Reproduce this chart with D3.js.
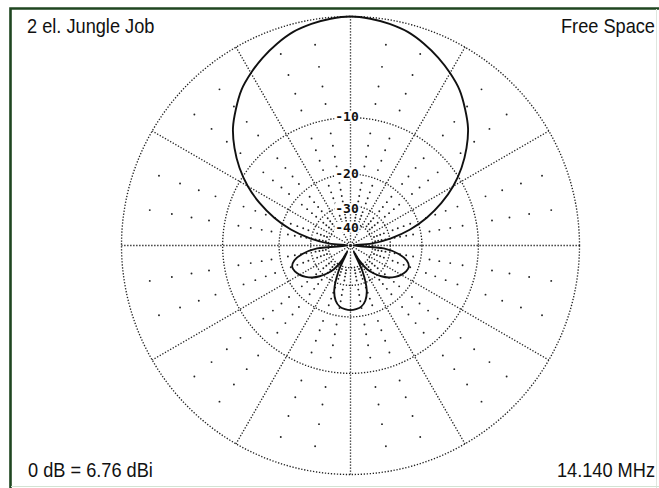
<!DOCTYPE html>
<html>
<head>
<meta charset="utf-8">
<script src="https://cdn.jsdelivr.net/npm/d3@7"></script>
<style>
  html, body { margin: 0; padding: 0; background: #fff; }
  svg { display: block; }
  .corner { font-family: "Liberation Sans", Arial, sans-serif; font-size: 20px; fill: #111; }
  .ringLabel { font-family: "DejaVu Sans Mono", monospace; font-weight: bold; font-size: 13px; fill: #111; }
</style>
</head>
<body>
<svg id="chart" width="659" height="488"></svg>
<script>
// Free-space azimuth pattern, compass degrees (0 = forward, clockwise), gain in dB re. maximum
const azimuthDeg = [
  0, 5, 10, 15, 20, 25, 30, 35, 40, 45, 50, 55, 60, 65, 70, 75, 80, 85,
  90, 95, 100, 105, 110, 115, 120, 125, 130, 135, 140, 145, 150, 152.5, 155, 160, 165, 170, 175,
  180, 185, 190, 195, 200, 205, 207.5, 210, 215, 220, 225, 230, 235, 240, 245, 250, 255, 260, 265,
  270, 275, 280, 285, 290, 295, 300, 305, 310, 315, 320, 325, 330, 335, 340, 345, 350, 355
];
const gainDb = [
  0, -0.1, -0.3, -0.6, -1.1, -1.7, -2.4, -3.2, -4.3, -5.5, -7.1, -9.0, -11.3, -14.2, -17.8, -22.5, -29.5, -41,
  -75, -33, -26.5, -23.5, -22.4, -22.6, -23.4, -24.6, -26.2, -28.5, -31.5, -35.5, -45, -60, -36, -27, -23.8, -22.4, -21.9,
  -21.7, -21.9, -22.4, -23.8, -27, -36, -60, -45, -35.5, -31.5, -28.5, -26.2, -24.6, -23.4, -22.6, -22.4, -23.5, -26.5, -33,
  -75, -41, -29.5, -22.5, -17.8, -14.2, -11.3, -9.0, -7.1, -5.5, -4.3, -3.2, -2.4, -1.7, -1.1, -0.6, -0.3, -0.1
];

// Grid: rings (dB), labelled rings, major spokes, minor radials and their 2 dB tick dots
const ringDb = [0, -10, -20, -30, -40];
const ringLabels = ["-10", "-20", "-30", "-40"];
const spokeDeg = [0, 30, 60, 90, 120, 150, 180, 210, 240, 270, 300, 330];
const minorDeg = [10, 20, 40, 50, 70, 80, 100, 110, 130, 140, 160, 170,
                  190, 200, 220, 230, 250, 260, 280, 290, 310, 320, 340, 350];
const minorDb = [-2, -4, -6, -8, -12, -14, -16, -18, -22, -24, -26, -28, -32, -34, -36, -38];

const titleText = "2 el. Jungle Job";
const spaceText = "Free Space";
const refText = "0 dB = 6.76 dBi";
const freqText = "14.140 MHz";

const W = 659, H = 488;
const cx = 350.5, cy = 245.5, R = 229;

// ARRL log-periodic scale: every 2 dB shrinks radius by 0.89
const arrl = db => Math.pow(0.89, -db / 2);
const rScale = d3.scaleLinear().domain([0, 1]).range([0, R]);
const rad = d3.scaleLinear().domain([0, 360]).range([0, 2 * Math.PI]);
const rOf = db => rScale(arrl(db));

const svg = d3.select("#chart");
svg.append("rect").attr("width", W).attr("height", H).attr("fill", "#fff");

// frame
svg.append("path")
  .attr("d", `M10.5,${H + 2} V8.5 H${W + 2}`)
  .attr("fill", "none").attr("stroke", "#1f4620").attr("stroke-width", 2.6);
svg.append("line").attr("x1", 656.5).attr("x2", 656.5).attr("y1", 9).attr("y2", H)
  .attr("stroke", "#dfe6df").attr("stroke-width", 1);
svg.append("line").attr("x1", 11).attr("x2", W).attr("y1", 486.5).attr("y2", 486.5)
  .attr("stroke", "#d3e3d3").attr("stroke-width", 1.2);

const g = svg.append("g").attr("transform", `translate(${cx},${cy})`);
const dotted = sel => sel.attr("fill", "none").attr("stroke", "#222")
  .attr("stroke-width", 1.35).attr("stroke-dasharray", "1.3 1.7");

// rings
g.selectAll("circle.ring").data(ringDb).join("circle")
  .attr("class", "ring").attr("r", d => rOf(d)).call(dotted);

// spokes
g.selectAll("line.spoke").data(spokeDeg).join("line")
  .attr("class", "spoke")
  .attr("x1", 0).attr("y1", 0)
  .attr("x2", d => R * Math.sin(rad(d)))
  .attr("y2", d => -R * Math.cos(rad(d)))
  .call(dotted);

// minor radial dots every 2 dB
const minorPts = minorDeg.flatMap(a => minorDb.map(db => ({ a, db })));
g.selectAll("circle.minor").data(minorPts).join("circle")
  .attr("class", "minor")
  .attr("cx", d => rOf(d.db) * Math.sin(rad(d.a)))
  .attr("cy", d => -rOf(d.db) * Math.cos(rad(d.a)))
  .attr("r", 0.95).attr("fill", "#222");

// pattern
const pattern = azimuthDeg.map((a, i) => [rad(a), rOf(gainDb[i])]);
const radial = d3.lineRadial()
  .angle(d => d[0]).radius(d => d[1])
  .curve(d3.curveCatmullRomClosed.alpha(0.5));
g.append("path").attr("d", radial(pattern))
  .attr("fill", "none").attr("stroke", "#111").attr("stroke-width", 1.9)
  .attr("stroke-linejoin", "round");

// ring labels on the forward axis
const nudge = [-1, -1, 3, 4];
const lab = g.selectAll("g.lab").data(ringLabels).join("g").attr("class", "lab")
  .attr("transform", (d, i) => `translate(-3.5,${-rOf(ringDb[i + 1]) + nudge[i]})`);
lab.append("rect").attr("x", -12.5).attr("y", -5.5).attr("width", 25).attr("height", 11).attr("fill", "#fff");
lab.append("text").attr("class", "ringLabel").attr("text-anchor", "middle")
  .attr("dominant-baseline", "central").text(d => d);

// corner captions
const corner = (txt, x, y, anchor) => svg.append("text").attr("class", "corner")
  .attr("text-anchor", anchor)
  .attr("transform", `translate(${x},${y}) scale(0.91,1)`).text(txt);
corner(titleText, 27, 33, "start");
corner(spaceText, 655, 33, "end");
corner(refText, 28, 477, "start");
corner(freqText, 655, 477, "end");
</script>
</body>
</html>
